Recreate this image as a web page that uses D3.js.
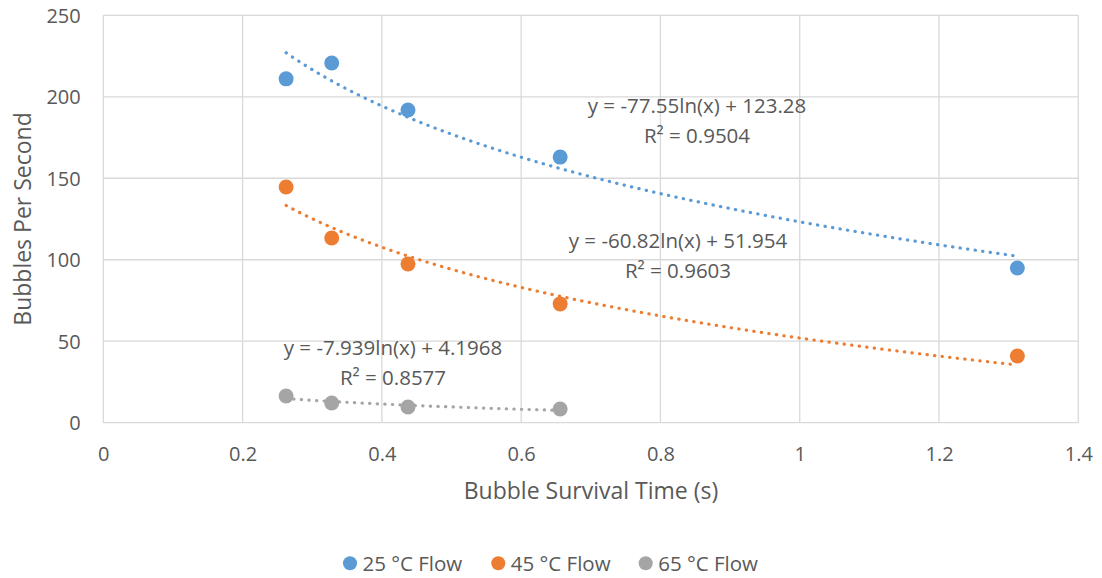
<!DOCTYPE html>
<html><head><meta charset="utf-8">
<script src="https://cdn.jsdelivr.net/npm/d3@7"></script>
<style>body{margin:0;background:#fff;} text{font-family:"Open Sans",sans-serif;fill:#595959;}</style>
</head><body>
<svg id="c" width="1102" height="578"></svg>
<script>
const seriesNames = ["25 °C Flow", "45 °C Flow", "65 °C Flow"];
const colors = ["#5B9BD5", "#ED7D31", "#A5A5A5"];
const x25 = [0.2625, 0.328, 0.4375, 0.656, 1.3125];
const y25 = [211, 220.7, 191.9, 163, 94.9];
const x45 = [0.2625, 0.328, 0.4375, 0.656, 1.3125];
const y45 = [144.6, 113.3, 97.4, 72.9, 40.9];
const x65 = [0.2625, 0.328, 0.4375, 0.656];
const y65 = [16.4, 12.1, 9.6, 8.4];
const slopes = [-77.55, -60.82, -7.939];
const intercepts = [123.28, 51.954, 4.1968];
const eqLabels = ["y = -77.55ln(x) + 123.28", "y = -60.82ln(x) + 51.954", "y = -7.939ln(x) + 4.1968"];
const r2Labels = ["R² = 0.9504", "R² = 0.9603", "R² = 0.8577"];
const xTicks = [0, 0.2, 0.4, 0.6, 0.8, 1, 1.2, 1.4];
const yTicks = [0, 50, 100, 150, 200, 250];

const series = [[x25, y25], [x45, y45], [x65, y65]];
const svg = d3.select("#c");
const L = 103.3, R = 1078.3, T = 15.3, B = 422.7;
const x = d3.scaleLinear().domain([0, 1.4]).range([L, R]);
const y = d3.scaleLinear().domain([0, 250]).range([B, T]);

// gridlines
const g = svg.append("g");
g.selectAll("line.v").data(xTicks).join("line")
  .attr("x1", d => x(d)).attr("x2", d => x(d)).attr("y1", T).attr("y2", B)
  .attr("stroke", "#d9d9d9").attr("stroke-width", 1.3);
g.selectAll("line.h").data(yTicks).join("line")
  .attr("x1", L).attr("x2", R).attr("y1", d => y(d)).attr("y2", d => y(d))
  .attr("stroke", "#d9d9d9").attr("stroke-width", 1.3);

// axes labels
const xa = svg.append("g").attr("transform", `translate(0,${B})`)
  .call(d3.axisBottom(x).tickValues(xTicks).tickSize(0).tickPadding(0).tickFormat(d => String(d)));
xa.select(".domain").remove();
xa.selectAll("text").attr("dy", null).attr("y", 38.5).style("font-size", "20px").attr("fill", "#595959").style("font-family", "'Open Sans',sans-serif");
const ya = svg.append("g").attr("transform", `translate(${L},0)`)
  .call(d3.axisLeft(y).tickValues(yTicks).tickSize(0).tickPadding(22.6));
ya.select(".domain").remove();
ya.selectAll("text").attr("dy", null).attr("y", 7.2).style("font-size", "20px").attr("fill", "#595959").style("font-family", "'Open Sans',sans-serif");

svg.append("text").attr("x", 591).attr("y", 499).attr("text-anchor", "middle")
  .style("font-size", "23px").text("Bubble Survival Time (s)");
svg.append("text").attr("transform", "translate(31,219) rotate(-90)").attr("text-anchor", "middle")
  .style("font-size", "23px").text("Bubbles Per Second");

// trendlines
series.forEach((s, i) => {
  const xs = s[0];
  const x0 = d3.min(xs), x1 = d3.max(xs);
  const pts = d3.range(0, 101).map(k => {
    const xv = x0 + (x1 - x0) * k / 100;
    return [xv, slopes[i] * Math.log(xv) + intercepts[i]];
  });
  svg.append("path").datum(pts)
    .attr("d", d3.line().x(d => x(d[0])).y(d => y(d[1])))
    .attr("fill", "none").attr("stroke", colors[i]).attr("stroke-width", 3.2)
    .attr("stroke-linecap", "round").attr("stroke-dasharray", "0.3 7.3");
});

// points
series.forEach((s, i) => {
  svg.append("g").selectAll("circle").data(d3.zip(s[0], s[1])).join("circle")
    .attr("cx", d => x(d[0])).attr("cy", d => y(d[1])).attr("r", 7.5)
    .attr("fill", colors[i]);
});

// equation labels
const labelPos = [[697, 113], [678, 248.3], [393, 355]];
labelPos.forEach((p, i) => {
  svg.append("text").attr("x", p[0]).attr("y", p[1]).attr("text-anchor", "middle")
    .style("font-size", "20.5px").text(eqLabels[i]);
  svg.append("text").attr("x", p[0]).attr("y", p[1] + 30).attr("text-anchor", "middle")
    .style("font-size", "20.5px").text(r2Labels[i]);
});

// legend
const legX = [350, 498.3, 645.7];
seriesNames.forEach((n, i) => {
  svg.append("circle").attr("cx", legX[i]).attr("cy", 563.3).attr("r", 7).attr("fill", colors[i]);
  svg.append("text").attr("x", legX[i] + 12.5).attr("y", 570.5).style("font-size", "20.5px").text(n);
});
</script>
</body></html>
